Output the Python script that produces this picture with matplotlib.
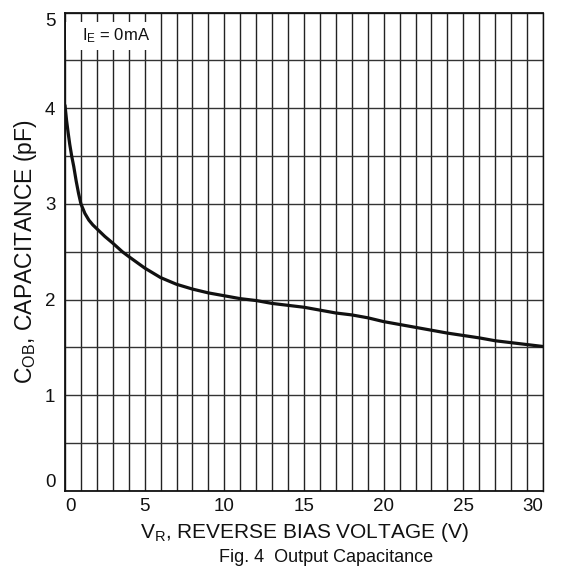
import matplotlib
matplotlib.use("Agg")
import matplotlib.pyplot as plt
from matplotlib.patches import Rectangle
import numpy as np

plt.rcParams['font.family'] = ['Liberation Sans', 'DejaVu Sans']
plt.rcParams['mathtext.fontset'] = 'custom'
plt.rcParams['mathtext.rm'] = 'Liberation Sans'
plt.rcParams['mathtext.it'] = 'Liberation Sans'

# Data
vr = [0, 0.1, 0.2, 0.3, 0.42, 0.55, 0.7, 0.85, 1.0, 1.25, 1.5, 1.75, 2, 2.5, 3,
      3.6, 4, 5, 6, 7, 8, 9, 10, 11, 12, 13, 14,
      15, 16, 17, 18, 19, 20, 21, 22, 23, 24, 25, 26, 27, 28, 29, 30]
cob = [4.03, 3.87, 3.74, 3.62, 3.50, 3.39, 3.24, 3.11, 3.00, 2.90, 2.83, 2.78,
       2.74, 2.66, 2.59, 2.50, 2.45, 2.33, 2.23, 2.16,
       2.11, 2.07, 2.04, 2.01, 1.99, 1.96, 1.94, 1.92, 1.89, 1.86, 1.84, 1.81,
       1.77, 1.74, 1.71, 1.68, 1.65, 1.625, 1.60, 1.57, 1.55, 1.53, 1.51]
x_ticks = [0, 5, 10, 15, 20, 25, 30]
y_ticks = [0, 1, 2, 3, 4, 5]

fig = plt.figure(figsize=(5.63, 5.72), dpi=100)
ax = fig.add_axes([65/563, 1 - 491/572, 478/563, 478.5/572])

ax.plot(vr, cob, color='#111111', lw=2.3, solid_capstyle='round',
        solid_joinstyle='round', zorder=3)

ax.set_xlim(0, 30)
ax.set_ylim(0, 5)
ax.set_xticks(x_ticks)
ax.set_yticks(y_ticks)
ax.set_xticks(np.arange(0, 31, 1), minor=True)
ax.set_yticks(np.arange(0, 5.01, 0.5), minor=True)
ax.grid(True, which='both', axis='x', color='#222222', lw=1.0)
ax.grid(True, which='both', axis='y', color='#333333', lw=1.0)
ax.tick_params(which='both', length=0, labelsize=13.5, colors='#111111')
ax.tick_params(axis='x', pad=5)
ax.tick_params(axis='y', pad=7)

for s in ax.spines.values():
    s.set_color('#111111')
    s.set_linewidth(1.3)
ax.spines['right'].set_linewidth(1.0)

ylabels = ax.get_yticklabels()
ylabels[0].set_va('bottom')
ylabels[-1].set_va('top')
xlabels = ax.get_xticklabels()
xlabels[-1].set_ha('right')
xlabels[0].set_ha('left')

# annotation box
ax.add_patch(Rectangle((0.002, 0.9216), 0.178, 0.058, transform=ax.transAxes,
                       facecolor='white', edgecolor='none', zorder=2))
ax.text(0.0356, 0.951, r'I$_\mathregular{E}$ = 0mA', transform=ax.transAxes,
        fontsize=12, va='center', ha='left', zorder=4, color='#111111')

ax.set_xlabel(r'V$_\mathregular{R}$, REVERSE BIAS VOLTAGE (V)', fontsize=15,
              labelpad=4, color='#111111')
ax.set_ylabel(r'C$_\mathregular{OB}$, CAPACITANCE (pF)', fontsize=16.5,
              labelpad=4, color='#111111')
fig.text(326/563, 1 - 557/572, 'Fig. 4  Output Capacitance', ha='center',
         va='center', fontsize=13, color='#111111')

fig.savefig('out.png', dpi=100)
